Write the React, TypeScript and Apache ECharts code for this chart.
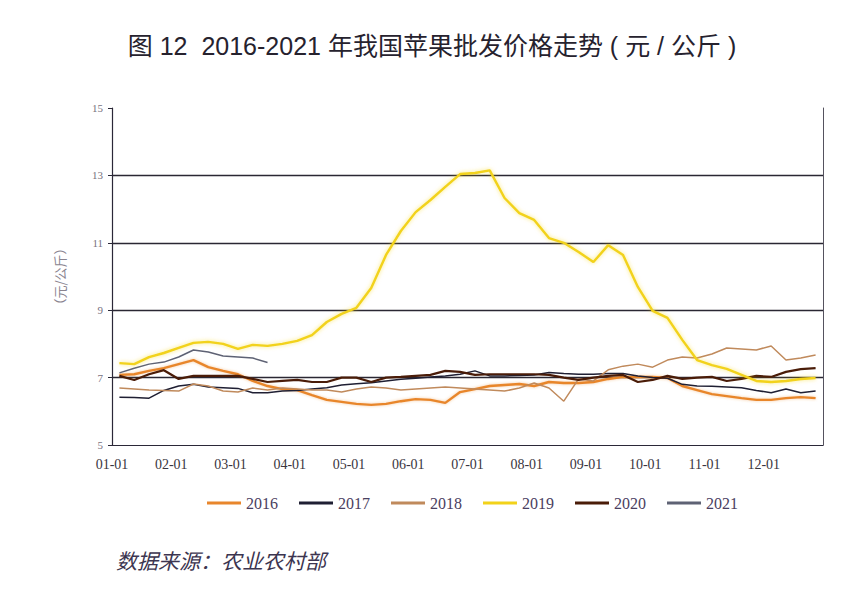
import React, { useEffect, useRef } from 'react';
import * as echarts from 'echarts';

const TITLE = '图 12  2016-2021 年我国苹果批发价格走势 ( 元 / 公斤 )';
const SOURCE = '数据来源：农业农村部';
const Y_NAME = '（元/公斤）';
const MONTH_LABELS = ['01-01', '02-01', '03-01', '04-01', '05-01', '06-01', '07-01', '08-01', '09-01', '10-01', '11-01', '12-01'];
const YEARS = ['2016', '2017', '2018', '2019', '2020', '2021'];
const COLORS = ['#E8862C', '#1F1F33', '#C08A5C', '#F2D21A', '#4A1C08', '#5E6274'];
const WIDTHS = [2.4, 1.5, 1.5, 2.4, 2.2, 1.5];

// weekly-ish readings, four per month
const Y2016 = [7.08, 7.1, 7.2, 7.28, 7.4, 7.52, 7.31, 7.2, 7.1, 6.9, 6.75, 6.66, 6.63, 6.48, 6.34, 6.28, 6.22, 6.19, 6.22, 6.3, 6.36, 6.34, 6.25, 6.57, 6.66, 6.75, 6.78, 6.81, 6.75, 6.87, 6.84, 6.84, 6.87, 6.96, 7.02, 7.02, 7.02, 6.99, 6.75, 6.63, 6.51, 6.45, 6.39, 6.34, 6.34, 6.39, 6.42, 6.39];
const Y2017 = [6.42, 6.41, 6.39, 6.62, 6.75, 6.8, 6.72, 6.7, 6.68, 6.55, 6.55, 6.6, 6.62, 6.66, 6.7, 6.78, 6.82, 6.85, 6.9, 6.95, 6.98, 7.02, 7.05, 7.1, 7.2, 7.05, 7.05, 7.06, 7.08, 7.15, 7.12, 7.1, 7.1, 7.12, 7.12, 7.05, 7.0, 6.98, 6.8, 6.75, 6.74, 6.72, 6.7, 6.62, 6.55, 6.66, 6.55, 6.6];
const Y2018 = [6.69, 6.66, 6.63, 6.62, 6.6, 6.81, 6.75, 6.6, 6.57, 6.69, 6.63, 6.69, 6.66, 6.63, 6.63, 6.57, 6.66, 6.72, 6.69, 6.63, 6.66, 6.69, 6.72, 6.69, 6.66, 6.63, 6.6, 6.69, 6.84, 6.69, 6.3, 6.96, 6.9, 7.23, 7.34, 7.4, 7.31, 7.52, 7.61, 7.58, 7.7, 7.88, 7.85, 7.82, 7.94, 7.52, 7.58, 7.67];
const Y2019 = [7.43, 7.4, 7.61, 7.73, 7.88, 8.03, 8.06, 8.0, 7.85, 7.97, 7.94, 8.0, 8.09, 8.26, 8.65, 8.89, 9.07, 9.66, 10.64, 11.35, 11.91, 12.27, 12.66, 13.04, 13.07, 13.15, 12.33, 11.88, 11.68, 11.14, 11.0, 10.73, 10.43, 10.93, 10.64, 9.69, 8.98, 8.77, 8.12, 7.52, 7.37, 7.26, 7.08, 6.9, 6.87, 6.9, 6.96, 6.99];
const Y2020 = [7.05, 6.93, 7.1, 7.22, 6.96, 7.05, 7.05, 7.05, 7.05, 6.96, 6.87, 6.9, 6.93, 6.87, 6.87, 7.0, 7.0, 6.87, 7.0, 7.02, 7.05, 7.08, 7.2, 7.17, 7.08, 7.1, 7.1, 7.1, 7.1, 7.08, 7.0, 6.93, 7.0, 7.05, 7.08, 6.87, 6.93, 7.05, 6.96, 7.0, 7.02, 6.9, 6.96, 7.05, 7.02, 7.17, 7.25, 7.28];
const Y2021 = [7.14, 7.28, 7.4, 7.46, 7.61, 7.82, 7.76, 7.64, 7.61, 7.58, 7.45];
const SERIES_VALUES = [Y2016, Y2017, Y2018, Y2019, Y2020, Y2021];

const Y_MIN = 5;
const Y_MAX = 15;
const Y_STEP = 2;

export default function App() {
  const ref = useRef<HTMLDivElement>(null);
  useEffect(() => {
    if (!ref.current) return;
    const chart = echarts.init(ref.current, null, { renderer: 'svg' });
    const serif = '"Liberation Serif", "Times New Roman", serif';
    const cjk = '"Noto Sans CJK SC", "Noto Sans", sans-serif';
    const titleFont = '"Liberation Sans", "Noto Sans CJK SC", sans-serif';
    const series = YEARS.map((name, si) => ({
      name,
      type: 'line',
      symbol: 'none',
      smooth: false,
      z: si === 3 ? 5 : 3,
      data: SERIES_VALUES[si].map((v, i) => [i / 4 + 0.125, v]),
      lineStyle: {
        color: COLORS[si],
        width: WIDTHS[si],
        ...(si === 3 ? { shadowBlur: 4, shadowColor: 'rgba(245,210,0,0.55)' } : {}),
        ...(si === 0 ? { shadowBlur: 3, shadowColor: 'rgba(232,134,44,0.45)' } : {}),
      },
      itemStyle: { color: COLORS[si] },
    }));
    chart.setOption({
      animation: false,
      backgroundColor: '#ffffff',
      title: {
        text: TITLE,
        left: 'center',
        top: 28,
        textStyle: { fontFamily: titleFont, fontSize: 25, fontWeight: 'normal', color: '#26222e' },
      },
      legend: {
        data: YEARS,
        left: 202,
        top: 490,
        icon: 'rect',
        itemWidth: 34,
        itemHeight: 3,
        itemGap: 21,
        textStyle: { fontFamily: serif, fontSize: 16, color: '#4a4060' },
      },
      grid: { left: 112, right: 41, top: 108, bottom: 145, containLabel: false },
      xAxis: {
        type: 'value',
        min: 0,
        max: 12,
        interval: 1,
        axisLine: { show: true, lineStyle: { color: '#2b2838', width: 1.2 } },
        axisTick: { show: false },
        splitLine: { show: false },
        axisLabel: {
          margin: 12,
          fontFamily: serif,
          fontSize: 14,
          color: '#3a3540',
          formatter: (v: number) => (v >= 0 && v < 12 ? MONTH_LABELS[Math.round(v)] : ''),
        },
      },
      yAxis: [
        {
          type: 'value',
          min: Y_MIN,
          max: Y_MAX,
          interval: Y_STEP,
          name: Y_NAME,
          nameLocation: 'middle',
          nameGap: 46,
          nameRotate: 90,
          nameTextStyle: { fontFamily: cjk, fontSize: 13, color: '#8a8490' },
          axisLine: { show: true, lineStyle: { color: '#2b2838', width: 1.2 } },
          axisTick: { show: true, length: 4, lineStyle: { color: '#2b2838' } },
          axisLabel: { margin: 9, fontFamily: serif, fontSize: 11, color: '#77727e' },
          splitLine: {
            show: true,
            lineStyle: {
              color: ['rgba(0,0,0,0)', '#2a2733', '#2a2733', '#2a2733', '#2a2733', 'rgba(0,0,0,0)'],
              width: 1.3,
            },
          },
        },
        {
          type: 'value',
          min: Y_MIN,
          max: Y_MAX,
          interval: Y_STEP,
          position: 'right',
          axisLine: { show: true, lineStyle: { color: '#55525e', width: 1 } },
          axisTick: { show: false },
          axisLabel: { show: false },
          splitLine: { show: false },
        },
      ],
      graphic: [
        {
          type: 'text',
          left: 116,
          top: 549,
          style: {
            text: SOURCE,
            fontFamily: cjk,
            fontSize: 21,
            fontStyle: 'italic',
            fill: '#3c3550',
          },
        },
      ],
      series,
    });
    return () => chart.dispose();
  }, []);
  return (
    <div
      ref={ref}
      style={{ position: 'absolute', left: 0, top: 0, width: 864, height: 590 }}
    />
  );
}
